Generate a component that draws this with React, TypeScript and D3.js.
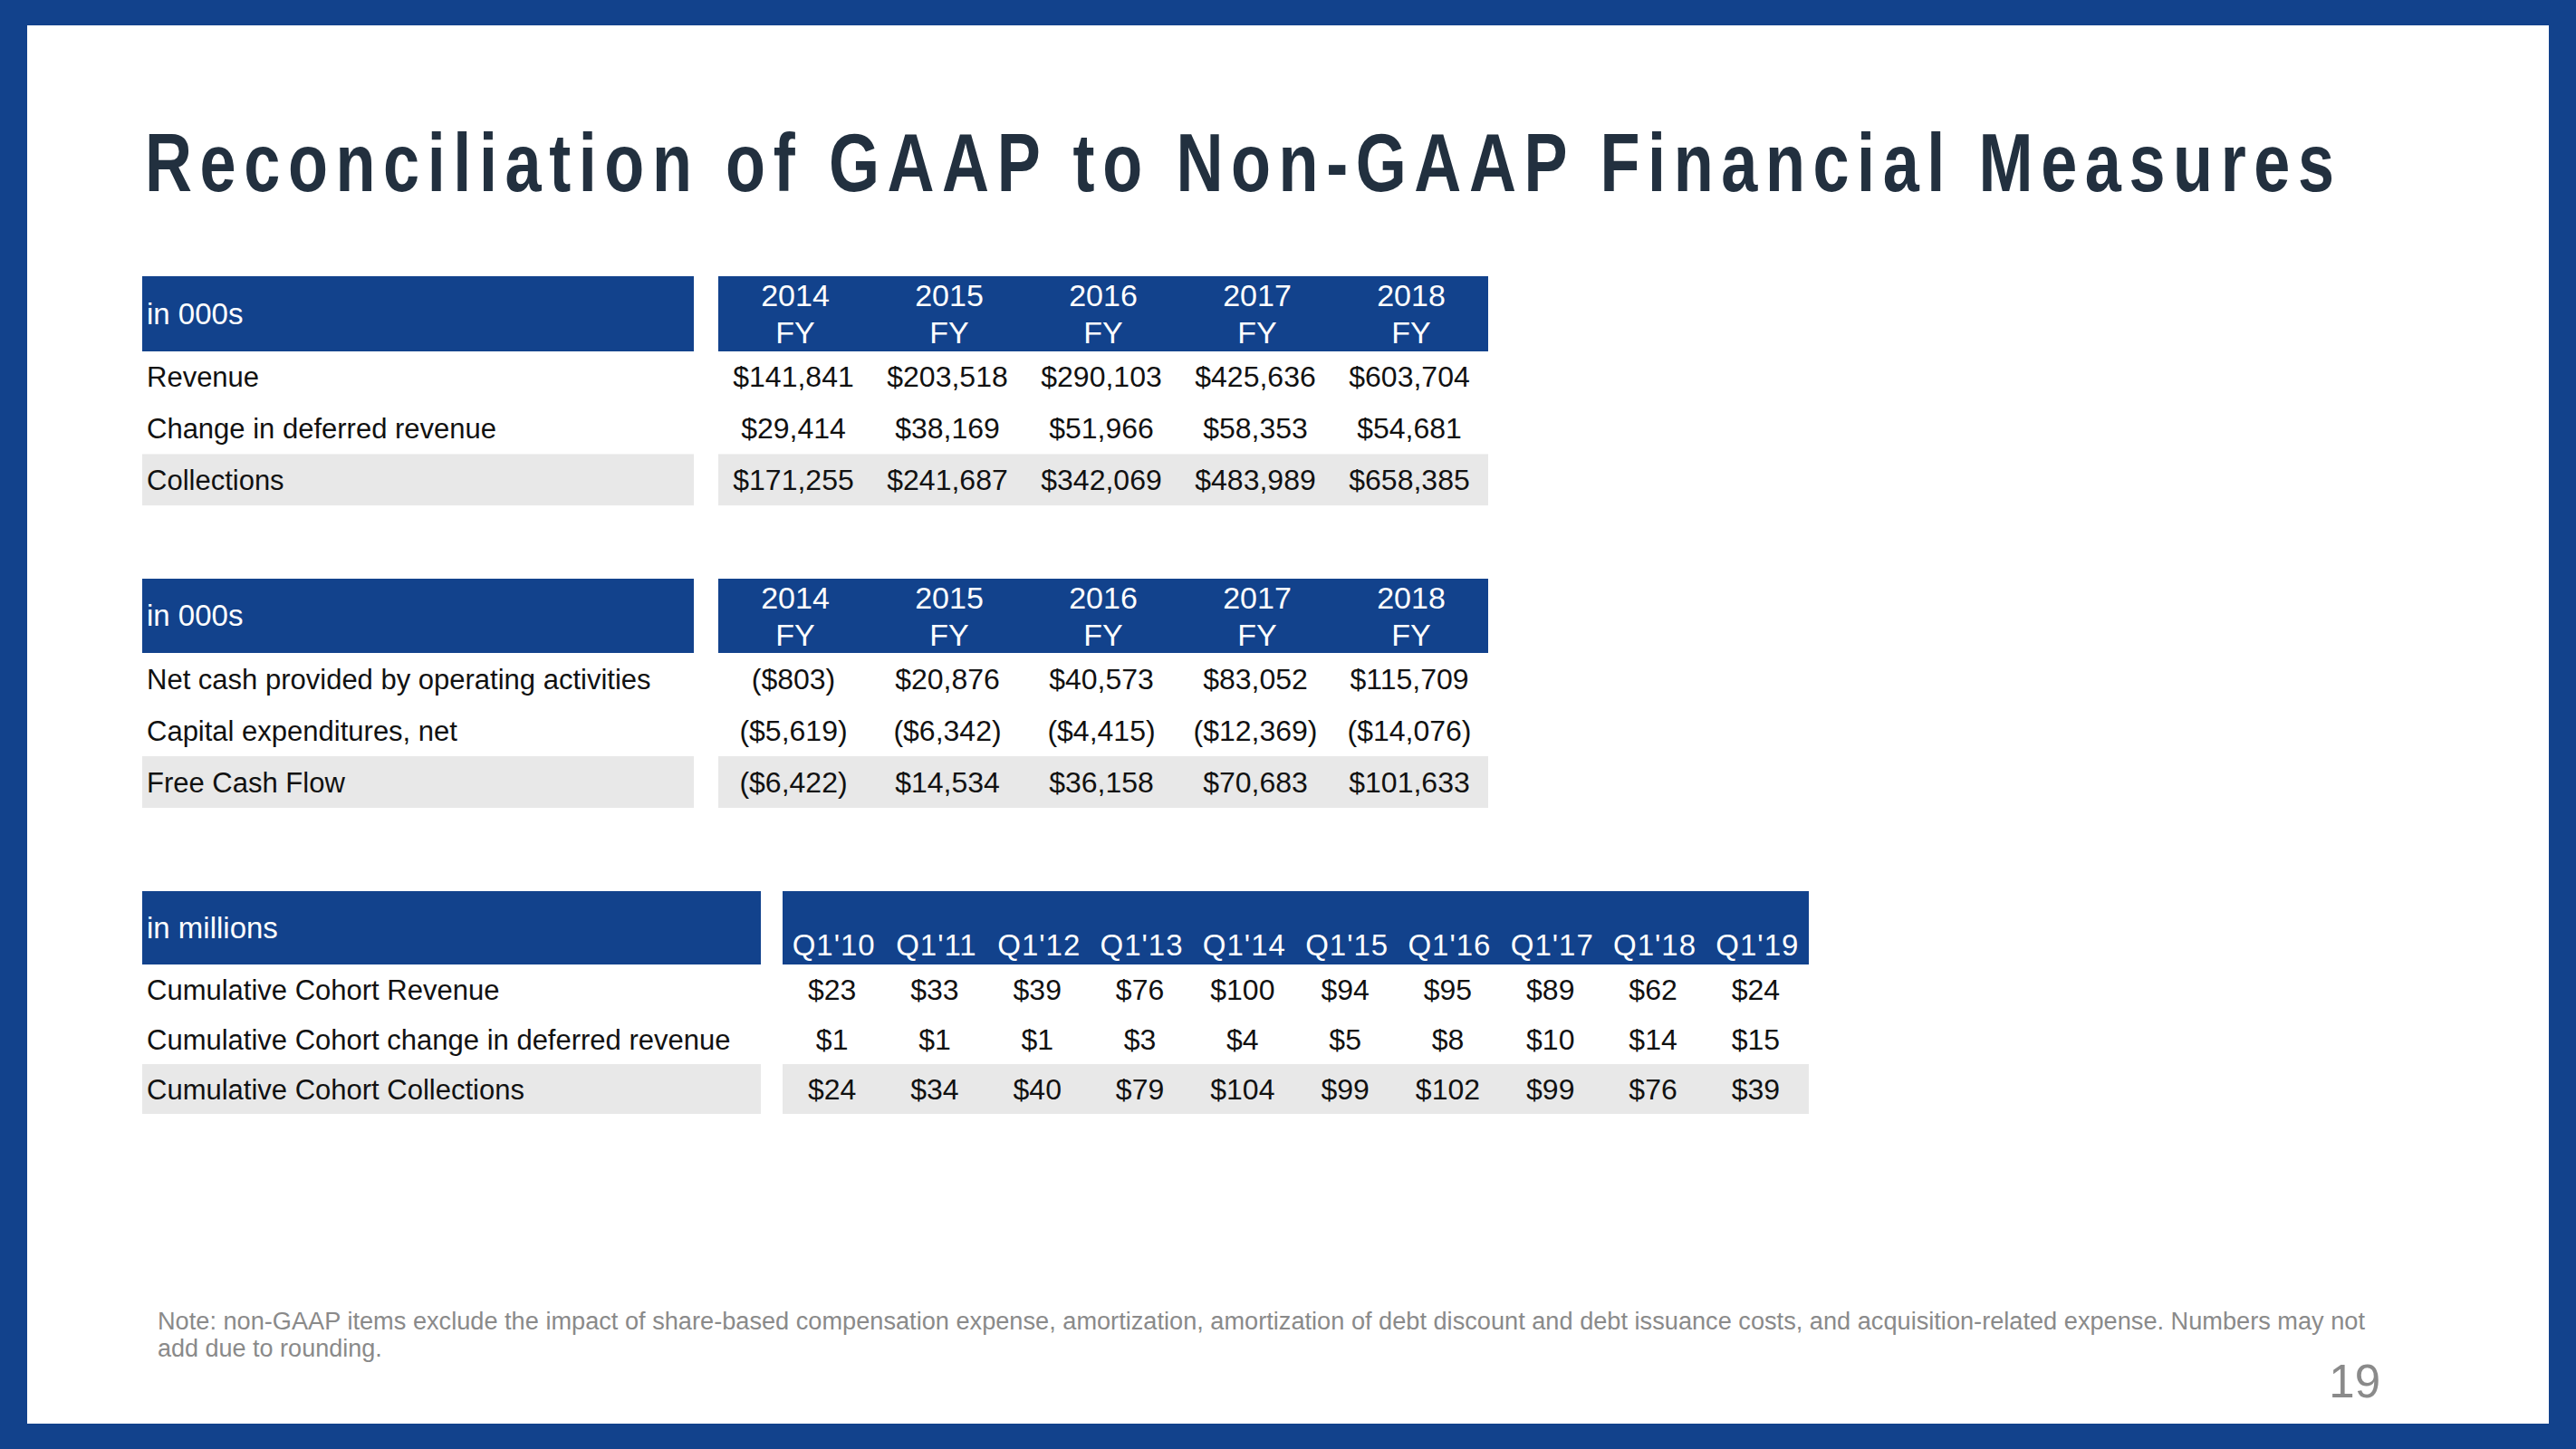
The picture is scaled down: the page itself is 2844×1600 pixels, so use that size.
import React from "react";
import * as d3 from "d3";

const fyYears = ["2014", "2015", "2016", "2017", "2018"];

const t1Labels = ["Revenue", "Change in deferred revenue", "Collections"];
const revenue = [141841, 203518, 290103, 425636, 603704];
const deferredRevenue = [29414, 38169, 51966, 58353, 54681];
const collections = [171255, 241687, 342069, 483989, 658385];

const t2Labels = ["Net cash provided by operating activities", "Capital expenditures, net", "Free Cash Flow"];
const netCash = [-803, 20876, 40573, 83052, 115709];
const capex = [-5619, -6342, -4415, -12369, -14076];
const freeCashFlow = [-6422, 14534, 36158, 70683, 101633];

const quarters = ["Q1'10", "Q1'11", "Q1'12", "Q1'13", "Q1'14", "Q1'15", "Q1'16", "Q1'17", "Q1'18", "Q1'19"];
const t3Labels = ["Cumulative Cohort Revenue", "Cumulative Cohort change in deferred revenue", "Cumulative Cohort Collections"];
const cohortRevenue = [23, 33, 39, 76, 100, 94, 95, 89, 62, 24];
const cohortDeferred = [1, 1, 1, 3, 4, 5, 8, 10, 14, 15];
const cohortCollections = [24, 34, 40, 79, 104, 99, 102, 99, 76, 39];

const titleText = "Reconciliation of GAAP to Non-GAAP Financial Measures";
const noteLine1 =
  "Note: non-GAAP items exclude the impact of share-based compensation expense, amortization, amortization of debt discount and debt issuance costs, and acquisition-related expense. Numbers may not";
const noteLine2 = "add due to rounding.";
const pageNumber = "19";

const BLUE = "#12428c";
const SHADE = "#e8e8e8";
const FONT = "'Liberation Sans', Arial, Helvetica, sans-serif";
const TITLE_SQUEEZE = 0.8;

const fmt = d3.format(",");
const money = (v: number) => (v < 0 ? `($${fmt(-v)})` : `$${fmt(v)}`);

type TableProps = {
  top: number;
  headerH: number;
  rowH: number;
  leftX0: number;
  leftX1: number;
  rightX0: number;
  rightX1: number;
  unitLabel: string;
  cols: string[];
  twoLineHeader: boolean;
  labels: string[];
  rows: number[][];
};

function Table(p: TableProps) {
  const x = d3.scaleBand<string>().domain(p.cols).range([p.rightX0, p.rightX1]);
  const rowIdx = p.labels.map((_, i) => String(i));
  const y = d3
    .scaleBand<string>()
    .domain(rowIdx)
    .range([p.top + p.headerH, p.top + p.headerH + p.rowH * p.labels.length]);
  const headerMid = p.top + p.headerH / 2;
  return (
    <g>
      <rect x={p.leftX0} y={p.top} width={p.leftX1 - p.leftX0} height={p.headerH} fill={BLUE} />
      <rect x={p.rightX0} y={p.top} width={p.rightX1 - p.rightX0} height={p.headerH} fill={BLUE} />
      <text x={p.leftX0 + 5} y={headerMid + 11} fill="#fff" fontSize={33} fontFamily={FONT}>
        {p.unitLabel}
      </text>
      {p.cols.map((c) => {
        const cx = (x(c) as number) + x.bandwidth() / 2;
        return p.twoLineHeader ? (
          <g key={c}>
            <text x={cx} y={p.top + 33} fill="#fff" fontSize={34} fontFamily={FONT} textAnchor="middle">
              {c}
            </text>
            <text x={cx} y={p.top + 74} fill="#fff" fontSize={34} fontFamily={FONT} textAnchor="middle">
              FY
            </text>
          </g>
        ) : (
          <text
            key={c}
            x={cx}
            y={p.top + p.headerH - 10}
            fill="#fff"
            fontSize={33}
            letterSpacing={1}
            fontFamily={FONT}
            textAnchor="middle"
          >
            {c}
          </text>
        );
      })}
      {p.labels.map((lab, i) => {
        const ry = y(String(i)) as number;
        const shaded = i === p.labels.length - 1;
        return (
          <g key={lab}>
            {shaded && (
              <>
                <rect x={p.leftX0} y={ry} width={p.leftX1 - p.leftX0} height={y.bandwidth()} fill={SHADE} />
                <rect x={p.rightX0} y={ry} width={p.rightX1 - p.rightX0} height={y.bandwidth()} fill={SHADE} />
              </>
            )}
            <text x={p.leftX0 + 5} y={ry + y.bandwidth() / 2 + 11} fill="#111" fontSize={31} fontFamily={FONT}>
              {lab}
            </text>
            {p.rows[i].map((v, j) => {
              const c = p.cols[j];
              const cx = (x(c) as number) + x.bandwidth() / 2;
              return (
                <text
                  key={c}
                  x={cx - 2}
                  y={ry + y.bandwidth() / 2 + 11}
                  fill="#111"
                  fontSize={32}
                  fontFamily={FONT}
                  textAnchor="middle"
                >
                  {money(v)}
                </text>
              );
            })}
          </g>
        );
      })}
    </g>
  );
}

export default function App() {
  const W = 2844;
  const H = 1600;
  return (
    <svg
      width={W}
      height={H}
      viewBox={`0 0 ${W} ${H}`}
      style={{ position: "fixed", left: 0, top: 0, display: "block", background: "#fff" }}
    >
      <rect x={0} y={0} width={W} height={H} fill={BLUE} />
      <rect x={30} y={28} width={2814 - 30} height={1572 - 28} fill="#fff" />

      <g transform={`translate(160,211) scale(${TITLE_SQUEEZE},1)`}>
        <text
          x={0}
          y={0}
          fill="#22303f"
          fontSize={90}
          fontWeight="bold"
          fontFamily={FONT}
          textLength={2417 / TITLE_SQUEEZE}
          lengthAdjust="spacing"
        >
          {titleText}
        </text>
      </g>

      <Table
        top={305}
        headerH={83}
        rowH={56.7}
        leftX0={157}
        leftX1={766}
        rightX0={793}
        rightX1={1643}
        unitLabel="in 000s"
        cols={fyYears}
        twoLineHeader={true}
        labels={t1Labels}
        rows={[revenue, deferredRevenue, collections]}
      />
      <Table
        top={639}
        headerH={82}
        rowH={57}
        leftX0={157}
        leftX1={766}
        rightX0={793}
        rightX1={1643}
        unitLabel="in 000s"
        cols={fyYears}
        twoLineHeader={true}
        labels={t2Labels}
        rows={[netCash, capex, freeCashFlow]}
      />
      <Table
        top={984}
        headerH={81}
        rowH={55}
        leftX0={157}
        leftX1={840}
        rightX0={864}
        rightX1={1997}
        unitLabel="in millions"
        cols={quarters}
        twoLineHeader={false}
        labels={t3Labels}
        rows={[cohortRevenue, cohortDeferred, cohortCollections]}
      />

      <text x={174} y={1468} fill="#8a8a8a" fontSize={27} fontFamily={FONT} textLength={2437} lengthAdjust="spacingAndGlyphs">
        {noteLine1}
      </text>
      <text x={174} y={1498} fill="#8a8a8a" fontSize={27} fontFamily={FONT}>
        {noteLine2}
      </text>
      <text x={2628} y={1543} fill="#8a8a8a" fontSize={51} fontFamily={FONT} textAnchor="end">
        {pageNumber}
      </text>
    </svg>
  );
}
